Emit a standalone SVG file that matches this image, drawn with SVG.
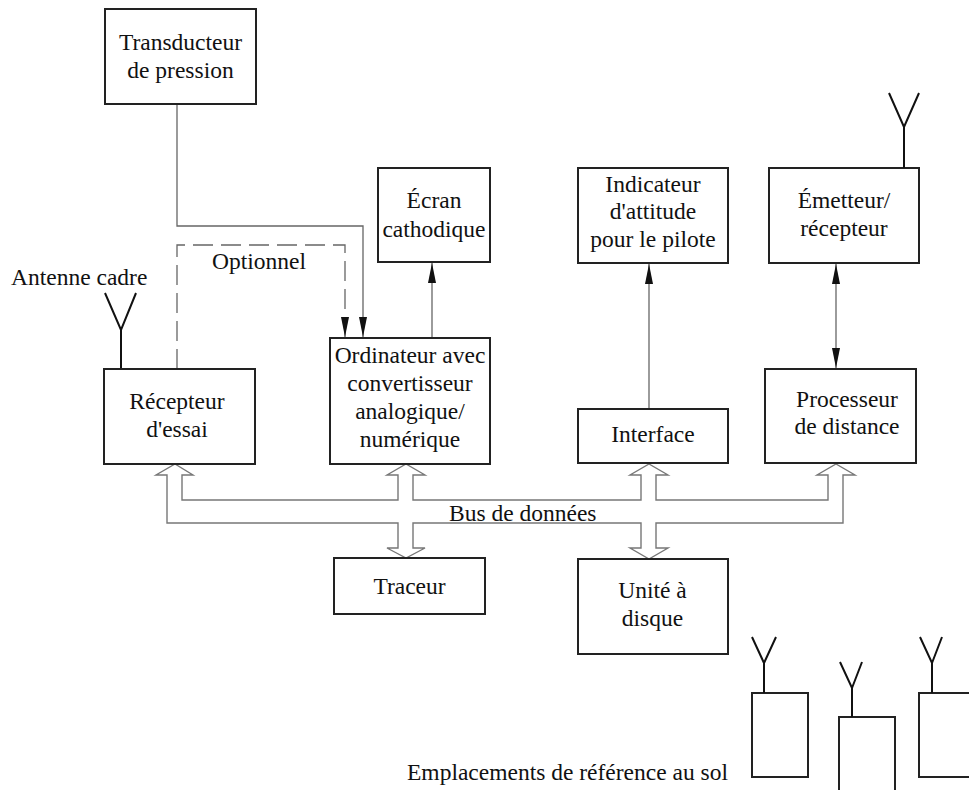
<svg xmlns="http://www.w3.org/2000/svg" width="969" height="790" viewBox="0 0 969 790">
<style>
.box{fill:#fff;stroke:#222;stroke-width:2}
.t{font-family:"Liberation Serif","Times New Roman",serif;font-size:23.5px;fill:#111}
.c{text-anchor:middle}
.ln{fill:none;stroke:#666;stroke-width:1.3}
.dash{fill:none;stroke:#666;stroke-width:1.3;stroke-dasharray:20 8}
.ant{fill:none;stroke:#111;stroke-width:2}
.bus{fill:#fff;stroke:#777;stroke-width:1.4}
</style>
<defs>
<marker id="ah" viewBox="0 0 20 8" refX="20" refY="4" markerWidth="20" markerHeight="8" markerUnits="userSpaceOnUse" orient="auto-start-reverse">
<path d="M0,0 L20,4 L0,8 z" fill="#111"/>
</marker>
</defs>
<rect width="969" height="790" fill="#fff"/>

<g id="connectors">
<path class="ln" d="M177,104 V226 H363 V337" marker-end="url(#ah)"/>
<path class="dash" d="M177,369 V245 H345 V337" marker-end="url(#ah)"/>
<path class="ln" d="M432,338 V263" marker-end="url(#ah)"/>
<path class="ln" d="M649,409 V264" marker-end="url(#ah)"/>
<path class="ln" d="M836,264 V368" marker-start="url(#ah)" marker-end="url(#ah)"/>
<path id="bus" class="bus" d="M167,475 V523 H398 V548 H387 L406,558 L425,548 H413 V523 H641 V548 H630 L649,559 L668,548 H656 V523 H843 V475 H855 L836,464 L817,475 H828 V500 H656 V475 H668 L649,464 L630,475 H641 V500 H413 V475 H425 L406,464 L387,475 H398 V500 H182 V475 H193 L175,464 L156,475 Z"/>
</g>

<g id="transducteur">
<rect class="box" x="105" y="9" width="151" height="95"/>
<text class="t c" x="180.5" y="50">Transducteur</text>
<text class="t c" x="180.5" y="78">de pression</text>
</g>

<g id="ecran">
<rect class="box" x="378" y="168" width="112" height="94"/>
<text class="t c" x="434" y="208">Écran</text>
<text class="t c" x="434" y="237">cathodique</text>
</g>

<g id="indicateur">
<rect class="box" x="578" y="168" width="150" height="95"/>
<text class="t c" x="653" y="192">Indicateur</text>
<text class="t c" x="653" y="219">d'attitude</text>
<text class="t c" x="653" y="247">pour le pilote</text>
</g>

<g id="emetteur">
<rect class="box" x="769" y="168" width="150" height="95"/>
<path class="ant" d="M904,168 V127 M889,93 L904,127 L919,93"/>
<text class="t c" x="844" y="208">Émetteur/</text>
<text class="t c" x="844" y="236">récepteur</text>
</g>

<g id="antenne-cadre">
<text class="t" x="11" y="285">Antenne cadre</text>
<path class="ant" d="M121,369 V330 M105,293 L121,330 L136,293"/>
</g>

<g id="optionnel">
<text class="t" x="212" y="269">Optionnel</text>
</g>

<g id="recepteur">
<rect class="box" x="104" y="369" width="151" height="95"/>
<text class="t c" x="177" y="409">Récepteur</text>
<text class="t c" x="177" y="437">d'essai</text>
</g>

<g id="ordinateur">
<rect class="box" x="330" y="338" width="160" height="126"/>
<text class="t c" x="410" y="363">Ordinateur avec</text>
<text class="t c" x="410" y="391">convertisseur</text>
<text class="t c" x="410" y="419">analogique/</text>
<text class="t c" x="410" y="447">numérique</text>
</g>

<g id="interface">
<rect class="box" x="578" y="409" width="150" height="54"/>
<text class="t c" x="653" y="442">Interface</text>
</g>

<g id="processeur">
<rect class="box" x="765" y="369" width="151" height="94"/>
<text class="t c" x="847" y="407">Processeur</text>
<text class="t c" x="847" y="434">de distance</text>
</g>

<g id="bus-label">
<text class="t" x="449" y="521">Bus de données</text>
</g>

<g id="traceur">
<rect class="box" x="334" y="558" width="151" height="56"/>
<text class="t c" x="409.5" y="594">Traceur</text>
</g>

<g id="unite">
<rect class="box" x="578" y="559" width="150" height="95"/>
<text class="t c" x="652.5" y="598">Unité à</text>
<text class="t c" x="652.5" y="626">disque</text>
</g>

<g id="sol">
<text class="t" x="407" y="780">Emplacements de référence au sol</text>
<rect class="box" x="752" y="693" width="56" height="84"/>
<path class="ant" d="M764,693 V663 M752,637 L764,663 L776,637"/>
<rect class="box" x="839" y="717" width="56" height="90"/>
<path class="ant" d="M852,717 V688 M840,662 L852,688 L862,662"/>
<rect class="box" x="919" y="693" width="70" height="84"/>
<path class="ant" d="M932,693 V663 M920,637 L932,663 L942,637"/>
</g>
</svg>
